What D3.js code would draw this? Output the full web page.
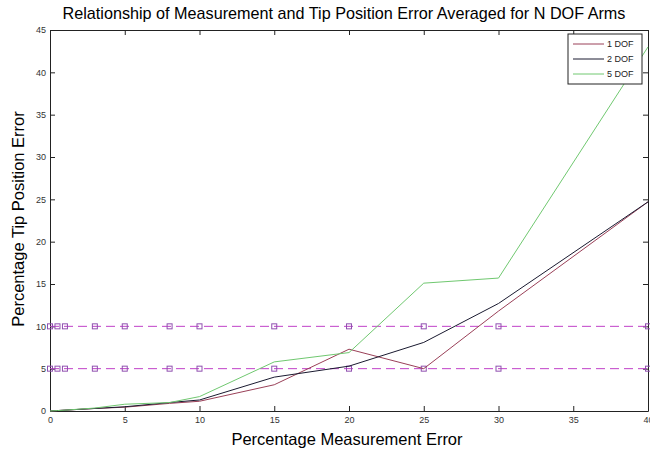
<!DOCTYPE html>
<html>
<head>
<meta charset="utf-8">
<script src="https://cdn.jsdelivr.net/npm/d3@7"></script>
<style>
  body { margin: 0; background: #fff; }
  text { font-family: "Liberation Sans", Arial, sans-serif; }
</style>
</head>
<body>
<div id="chart"></div>
<script>
// measurement error levels (x values)
const measurementError = [0, 0.5, 1, 3, 5, 8, 10, 15, 20, 25, 30, 40];
// tip position error per arm type
const dof1 = [0, 0.05, 0.1, 0.3, 0.45, 0.9, 1.15, 3.1, 7.3, 5.0, 11.8, 24.7];
const dof2 = [0, 0.05, 0.1, 0.3, 0.5, 1.0, 1.3, 4.0, 5.3, 8.1, 12.7, 24.7];
const dof5 = [0, 0.05, 0.1, 0.35, 0.8, 1.0, 1.7, 5.8, 6.9, 15.1, 15.7, 43.0];
const seriesNames = ['1 DOF', '2 DOF', '5 DOF'];
const refLevels = [5, 10];
const xTicks = [0, 5, 10, 15, 20, 25, 30, 35, 40];
const yTicks = [0, 5, 10, 15, 20, 25, 30, 35, 40, 45];

const width = 650, height = 453;
const margin = {left: 50, right: 2, top: 30, bottom: 42};

const svg = d3.select('#chart')
    .append('svg')
    .attr('width', width)
    .attr('height', height);

const x = d3.scaleLinear().domain([0, 40]).range([margin.left, width - margin.right]);
const y = d3.scaleLinear().domain([0, 45]).range([height - margin.bottom, margin.top]);

//axes box with inward ticks on all sides
const tickLen = 5;
svg.append('g')
    .attr('transform', 'translate(0,' + y(0) + ')')
    .call(d3.axisBottom(x).tickValues(xTicks).tickSizeInner(-tickLen).tickSizeOuter(0).tickPadding(6))
    .call(g => g.selectAll('text').style('font-size', '9px').attr('fill', '#333'));
svg.append('g')
    .attr('transform', 'translate(0,' + y(45) + ')')
    .call(d3.axisTop(x).tickValues(xTicks).tickSizeInner(-tickLen).tickSizeOuter(0).tickFormat(''));
svg.append('g')
    .attr('transform', 'translate(' + x(0) + ',0)')
    .call(d3.axisLeft(y).tickValues(yTicks).tickSizeInner(-tickLen).tickSizeOuter(0).tickPadding(4))
    .call(g => g.selectAll('text').style('font-size', '9px').attr('fill', '#333'));
svg.append('g')
    .attr('transform', 'translate(' + x(40) + ',0)')
    .call(d3.axisRight(y).tickValues(yTicks).tickSizeInner(-tickLen).tickSizeOuter(0).tickFormat(''));
svg.selectAll('.domain').attr('stroke', '#222');
svg.selectAll('.tick line').attr('stroke', '#222');

//reference lines with square markers
refLevels.forEach(level => {
    svg.append('line')
        .attr('x1', x(0)).attr('x2', x(40))
        .attr('y1', y(level)).attr('y2', y(level))
        .attr('stroke', '#c040c8')
        .attr('stroke-width', 1)
        .attr('stroke-dasharray', '9,5');
    svg.append('g').selectAll('rect')
        .data(measurementError)
        .enter()
        .append('rect')
        .attr('x', d => x(d) - 2.5)
        .attr('y', y(level) - 2.5)
        .attr('width', 5)
        .attr('height', 5)
        .attr('fill', 'none')
        .attr('stroke', '#9050b0')
        .attr('stroke-width', 1);
});

//data lines
const colors = ['#9a4058', '#1a1a30', '#70c870'];
const series = [dof1, dof2, dof5];
const line = d3.line()
    .x((d, i) => x(measurementError[i]))
    .y(d => y(d));
series.forEach((s, k) => {
    svg.append('path')
        .datum(s)
        .attr('d', line)
        .attr('fill', 'none')
        .attr('stroke', colors[k])
        .attr('stroke-width', 1);
});

//legend
const lg = svg.append('g').attr('transform', 'translate(568,34)');
lg.append('rect')
    .attr('width', 74).attr('height', 50)
    .attr('fill', '#fff')
    .attr('stroke', '#222');
seriesNames.forEach((name, i) => {
    lg.append('line')
        .attr('x1', 5).attr('x2', 36)
        .attr('y1', 10 + i * 15).attr('y2', 10 + i * 15)
        .attr('stroke', colors[i]);
    lg.append('text')
        .attr('x', 39).attr('y', 10 + i * 15)
        .attr('dominant-baseline', 'central')
        .style('font-size', '9px')
        .attr('fill', '#222')
        .text(name);
});

//title and labels
svg.append('text')
    .attr('x', 344).attr('y', 19)
    .attr('text-anchor', 'middle')
    .style('font-size', '16.2px')
    .text('Relationship of Measurement and Tip Position Error Averaged for N DOF Arms');
svg.append('text')
    .attr('x', 347).attr('y', 445)
    .attr('text-anchor', 'middle')
    .style('font-size', '16.5px')
    .text('Percentage Measurement Error');
svg.append('text')
    .attr('transform', 'translate(24,' + 219 + ') rotate(-90)')
    .attr('text-anchor', 'middle')
    .style('font-size', '16.5px')
    .text('Percentage Tip Position Error');
</script>
</body>
</html>
